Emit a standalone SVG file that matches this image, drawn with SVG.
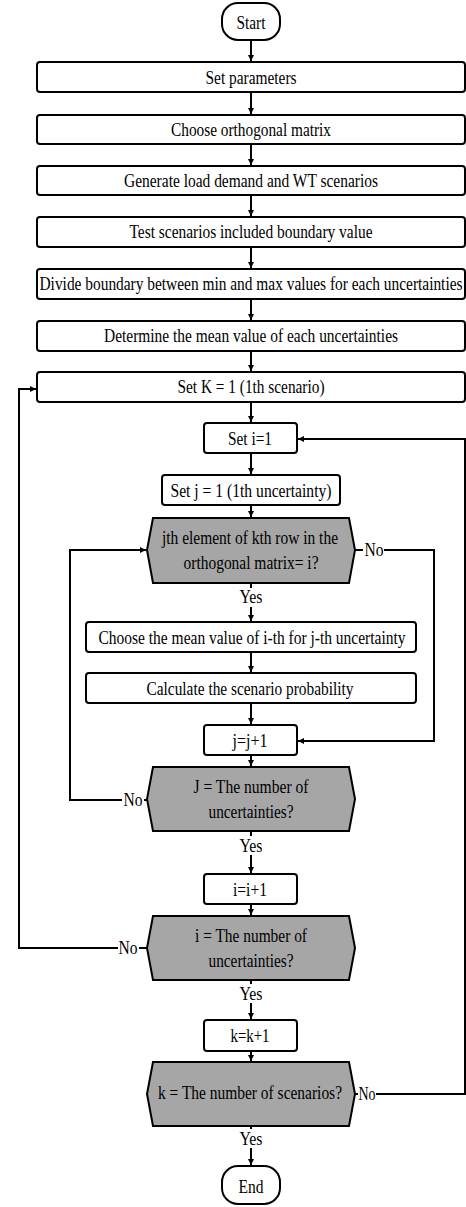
<svg xmlns="http://www.w3.org/2000/svg" width="466" height="1207" viewBox="0 0 466 1207" font-family="Liberation Serif, Times New Roman, serif">
<style>
.b{fill:#fff;stroke:#000;stroke-width:2}
.d{fill:#a6a6a6;stroke:#000;stroke-width:2;stroke-linejoin:miter}
.c{fill:none;stroke:#000;stroke-width:2}
text{font-family:'Liberation Serif','Times New Roman',serif;font-size:18px;fill:#000;text-anchor:middle}
.lb{fill:#fff;stroke:none}
</style>
<defs>
<marker id="ah" markerWidth="7" markerHeight="7" refX="6" refY="3.5" orient="auto" markerUnits="userSpaceOnUse">
<path d="M0,0.5 L6,3.5 L0,6.5 z" fill="#000"/>
</marker>
</defs>
<rect width="466" height="1207" fill="#fff"/>
<g id="connectors">
<line class="c" x1="251" y1="40" x2="251" y2="61" marker-end="url(#ah)"/>
<line class="c" x1="251" y1="92" x2="251" y2="114" marker-end="url(#ah)"/>
<line class="c" x1="251" y1="144" x2="251" y2="165" marker-end="url(#ah)"/>
<line class="c" x1="251" y1="195" x2="251" y2="216" marker-end="url(#ah)"/>
<line class="c" x1="251" y1="247" x2="251" y2="268" marker-end="url(#ah)"/>
<line class="c" x1="251" y1="299" x2="251" y2="320" marker-end="url(#ah)"/>
<line class="c" x1="251" y1="351" x2="251" y2="371" marker-end="url(#ah)"/>
<line class="c" x1="251" y1="402" x2="251" y2="422" marker-end="url(#ah)"/>
<line class="c" x1="251" y1="453" x2="251" y2="474" marker-end="url(#ah)"/>
<line class="c" x1="251" y1="505" x2="251" y2="517" marker-end="url(#ah)"/>
<line class="c" x1="251" y1="583" x2="251" y2="621" marker-end="url(#ah)"/>
<line class="c" x1="251" y1="652" x2="251" y2="672" marker-end="url(#ah)"/>
<line class="c" x1="251" y1="703" x2="251" y2="724" marker-end="url(#ah)"/>
<line class="c" x1="251" y1="755" x2="251" y2="766" marker-end="url(#ah)"/>
<line class="c" x1="251" y1="831" x2="251" y2="873" marker-end="url(#ah)"/>
<line class="c" x1="251" y1="904" x2="251" y2="915" marker-end="url(#ah)"/>
<line class="c" x1="251" y1="980" x2="251" y2="1019" marker-end="url(#ah)"/>
<line class="c" x1="251" y1="1051" x2="251" y2="1061" marker-end="url(#ah)"/>
<line class="c" x1="251" y1="1126" x2="251" y2="1165" marker-end="url(#ah)"/>
<polyline class="c" points="355,550 434,550 434,741 298,741" marker-end="url(#ah)"/>
<polyline class="c" points="147,800 70,800 70,550 146,550" marker-end="url(#ah)"/>
<polyline class="c" points="147,948 19,948 19,389 36,389" marker-end="url(#ah)"/>
<polyline class="c" points="355,1094 465,1094 465,439 298,439" marker-end="url(#ah)"/>
<rect class="lb" x="237" y="588" width="28" height="19"/>
<rect class="lb" x="237" y="836" width="28" height="19"/>
<rect class="lb" x="237" y="984" width="28" height="19"/>
<rect class="lb" x="237" y="1129" width="28" height="19"/>
<rect class="lb" x="363" y="541" width="21" height="17"/>
<rect class="lb" x="122" y="791" width="22" height="17"/>
<rect class="lb" x="118" y="939" width="21" height="17"/>
<rect class="lb" x="358" y="1085" width="18" height="17"/>
<text x="251" y="603" textLength="23" lengthAdjust="spacingAndGlyphs">Yes</text>
<text x="251" y="852" textLength="23" lengthAdjust="spacingAndGlyphs">Yes</text>
<text x="251" y="1000" textLength="23" lengthAdjust="spacingAndGlyphs">Yes</text>
<text x="251" y="1145" textLength="23" lengthAdjust="spacingAndGlyphs">Yes</text>
<text x="374" y="556" textLength="19" lengthAdjust="spacingAndGlyphs">No</text>
<text x="133" y="806" textLength="19" lengthAdjust="spacingAndGlyphs">No</text>
<text x="128" y="954" textLength="19" lengthAdjust="spacingAndGlyphs">No</text>
<text x="367" y="1100" textLength="17" lengthAdjust="spacingAndGlyphs">No</text>
</g>
<g id="start">
<rect class="b" x="222" y="3" width="58" height="37" rx="16"/>
<text x="251" y="29" textLength="29" lengthAdjust="spacingAndGlyphs">Start</text>
</g>
<g id="set-parameters">
<rect class="b" x="37" y="62" width="428" height="30" rx="3"/>
<text x="251" y="84" textLength="91" lengthAdjust="spacingAndGlyphs">Set parameters</text>
</g>
<g id="choose-matrix">
<rect class="b" x="37" y="115" width="428" height="29" rx="3"/>
<text x="251" y="136" textLength="160" lengthAdjust="spacingAndGlyphs">Choose orthogonal matrix</text>
</g>
<g id="generate">
<rect class="b" x="37" y="166" width="428" height="29" rx="3"/>
<text x="251" y="187" textLength="254" lengthAdjust="spacingAndGlyphs">Generate load demand and WT scenarios</text>
</g>
<g id="test">
<rect class="b" x="37" y="217" width="428" height="30" rx="3"/>
<text x="251" y="238" textLength="243" lengthAdjust="spacingAndGlyphs">Test scenarios included boundary value</text>
</g>
<g id="divide">
<rect class="b" x="37" y="269" width="428" height="30" rx="3"/>
<text x="251" y="290" textLength="423" lengthAdjust="spacingAndGlyphs">Divide boundary between min and max values for each uncertainties</text>
</g>
<g id="determine">
<rect class="b" x="37" y="321" width="428" height="30" rx="3"/>
<text x="251" y="342" textLength="294" lengthAdjust="spacingAndGlyphs">Determine the mean value of each uncertainties</text>
</g>
<g id="set-k">
<rect class="b" x="37" y="372" width="428" height="30" rx="3"/>
<text x="251" y="393" textLength="147" lengthAdjust="spacingAndGlyphs">Set K = 1 (1th scenario)</text>
</g>
<g id="set-i">
<rect class="b" x="204" y="423" width="93" height="30" rx="3"/>
<text x="250" y="445" textLength="44" lengthAdjust="spacingAndGlyphs">Set i=1</text>
</g>
<g id="set-j">
<rect class="b" x="162" y="475" width="178" height="30" rx="3"/>
<text x="251" y="497" textLength="161" lengthAdjust="spacingAndGlyphs">Set j = 1 (1th uncertainty)</text>
</g>
<g id="decision-element">
<polygon class="d" points="153,518 349,518 355,550 349,583 153,583 147,550"/>
<text x="250" y="544" textLength="176" lengthAdjust="spacingAndGlyphs">jth element of kth row in the</text>
<text x="251" y="569" textLength="135" lengthAdjust="spacingAndGlyphs">orthogonal matrix= i?</text>
</g>
<g id="choose-mean">
<rect class="b" x="86" y="622" width="330" height="30" rx="3"/>
<text x="252" y="644" textLength="307" lengthAdjust="spacingAndGlyphs">Choose the mean value of i-th for j-th uncertainty</text>
</g>
<g id="calculate">
<rect class="b" x="86" y="673" width="330" height="30" rx="3"/>
<text x="250" y="695" textLength="207" lengthAdjust="spacingAndGlyphs">Calculate the scenario probability</text>
</g>
<g id="j-inc">
<rect class="b" x="204" y="725" width="93" height="30" rx="3"/>
<text x="250" y="747" textLength="35" lengthAdjust="spacingAndGlyphs">j=j+1</text>
</g>
<g id="decision-j">
<polygon class="d" points="153,767 349,767 355,799 349,831 153,831 147,799"/>
<text x="251" y="793" textLength="115" lengthAdjust="spacingAndGlyphs">J = The number of</text>
<text x="251" y="818" textLength="85" lengthAdjust="spacingAndGlyphs">uncertainties?</text>
</g>
<g id="i-inc">
<rect class="b" x="204" y="874" width="93" height="30" rx="3"/>
<text x="250" y="896" textLength="34" lengthAdjust="spacingAndGlyphs">i=i+1</text>
</g>
<g id="decision-i">
<polygon class="d" points="153,916 349,916 355,948 349,980 153,980 147,948"/>
<text x="251" y="942" textLength="112" lengthAdjust="spacingAndGlyphs">i = The number of</text>
<text x="251" y="967" textLength="85" lengthAdjust="spacingAndGlyphs">uncertainties?</text>
</g>
<g id="k-inc">
<rect class="b" x="204" y="1020" width="93" height="31" rx="3"/>
<text x="250" y="1042" textLength="39" lengthAdjust="spacingAndGlyphs">k=k+1</text>
</g>
<g id="decision-k">
<polygon class="d" points="153,1062 349,1062 355,1094 349,1126 153,1126 147,1094"/>
<text x="250" y="1099" textLength="184" lengthAdjust="spacingAndGlyphs">k = The number of scenarios?</text>
</g>
<g id="end">
<rect class="b" x="222" y="1166" width="58" height="38" rx="16"/>
<text x="251" y="1193" textLength="25" lengthAdjust="spacingAndGlyphs">End</text>
</g>
</svg>
